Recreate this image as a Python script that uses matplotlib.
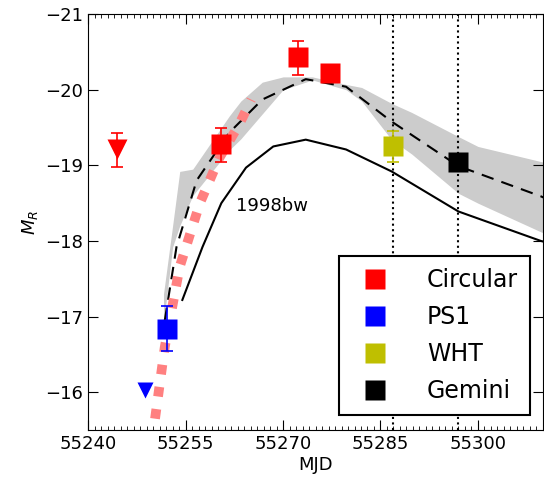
import matplotlib
matplotlib.use("Agg")
import matplotlib.pyplot as plt
import matplotlib.lines as mlines
from matplotlib.ticker import MultipleLocator

circ_x = [55260.4, 55272.3, 55277.2]
circ_y = [-19.28, -20.43, -20.22]
circ_elo = [0.22, 0.21, 0.0]
circ_ehi = [0.23, 0.23, 0.0]
circ_lim_x = [55244.4]; circ_lim_y = [-19.22]; circ_lim_e = [[0.21], [0.24]]
ps1_x = [55252.1]; ps1_y = [-16.84]; ps1_e = 0.3
ps1_lim_x = [55248.7]; ps1_lim_y = [-16.03]
wht_x = [55286.9]; wht_y = [-19.25]; wht_e = 0.21
gem_x = [55297.0]; gem_y = [-19.04]
vlines = [55287, 55297]

tmpl_x = [55251.8, 55253.6, 55256.7, 55261.7, 55266.8, 55273.5, 55279.7, 55286.7, 55297, 55309.7, 55312]
tmpl_y = [-16.95, -17.92, -18.8, -19.43, -19.87, -20.14, -20.04, -19.58, -18.99, -18.59, -18.5]
band_x = [55251.6, 55253.0, 55254.1, 55256.1, 55261.7, 55263.5, 55266.8, 55270, 55274.5, 55279.7, 55282.1, 55286.7, 55289.8, 55297, 55300, 55309.7, 55312]
band_hi = [-17.3, -18.2, -18.92, -18.95, -19.65, -19.85, -20.1, -20.17, -20.17, -20.07, -20.03, -19.82, -19.7, -19.38, -19.25, -19.05, -19.0]
band_lo = [-16.9, -17.92, -18.2, -18.6, -19.2, -19.35, -19.68, -20.0, -20.13, -20.0, -19.85, -19.34, -19.15, -18.63, -18.5, -18.12, -18.05]
bw_x = [55254.5, 55257.6, 55260.5, 55264.3, 55268.5, 55273.5, 55279.7, 55286.7, 55297, 55309.7, 55312]
bw_y = [-17.22, -17.92, -18.5, -18.97, -19.25, -19.34, -19.21, -18.92, -18.39, -18.0, -17.95]
fit_x = [55250.3, 55251.8, 55254.1, 55257.2, 55260.2, 55263.3, 55265.1]
fit_y = [-15.65, -16.6, -17.66, -18.5, -19.1, -19.55, -19.87]

fig = plt.figure(figsize=(5.44, 4.87), dpi=100)
ax = fig.add_axes([0.162, 0.117, 0.836, 0.854])

ax.fill_between(band_x, band_lo, band_hi, color='#cccccc', lw=0)
ax.plot(tmpl_x, tmpl_y, 'k--', lw=1.5, dashes=(6, 4))
ax.plot(bw_x, bw_y, 'k-', lw=1.5)
ax.plot(fit_x, fit_y, color='#ff8080', lw=7, ls=(0, (1, 1.3)))
ax.text(55262.7, -18.46, '1998bw', fontsize=13, va='center')
for v in vlines:
    ax.axvline(v, color='k', ls=':', lw=1.5)

kw = dict(ms=15, capsize=4, elinewidth=1.2, capthick=1.2, mec='none')
ax.errorbar(circ_x, circ_y, yerr=[circ_elo, circ_ehi], fmt='s', color='r', **kw)
ax.errorbar(circ_lim_x, circ_lim_y, yerr=circ_lim_e, fmt='v', color='r', **kw)
ax.errorbar(ps1_x, ps1_y, yerr=ps1_e, fmt='s', color='b', **kw)
ax.plot(ps1_lim_x, ps1_lim_y, 'bv', ms=12, mec='none')
ax.errorbar(wht_x, wht_y, yerr=wht_e, fmt='s', color='y', **kw)
ax.plot(gem_x, gem_y, 'ks', ms=15, mec='none')

ax.set_xlim(55240, 55310)
ax.set_ylim(-15.5, -21)
ax.set_xticks([55240, 55255, 55270, 55285, 55300])
ax.xaxis.set_minor_locator(MultipleLocator(1))
ax.set_yticks([-16, -17, -18, -19, -20, -21])
ax.ticklabel_format(axis='x', useOffset=False)
ax.tick_params(which='both', direction='in', top=True, right=True, labelsize=13)
ax.tick_params(which='major', length=7)
ax.tick_params(which='minor', length=3)
ax.set_xlabel('MJD', fontsize=13, labelpad=2)
ax.set_ylabel('$M_R$', fontsize=13)
hs = [mlines.Line2D([], [], marker='s', ls='', color=c, ms=15, mec='none') for c in ['r', 'b', 'y', 'k']]
leg = ax.legend(hs, ['Circular', 'PS1', 'WHT', 'Gemini'], loc='lower right', fontsize=17, numpoints=1,
          fancybox=False, edgecolor='k', framealpha=1, borderpad=0.5, labelspacing=0.55,
          handletextpad=1.2, borderaxespad=0, bbox_to_anchor=(0.971, 0.036))
leg.get_frame().set_linewidth(1.5)
fig.savefig('out.png', dpi=100)
